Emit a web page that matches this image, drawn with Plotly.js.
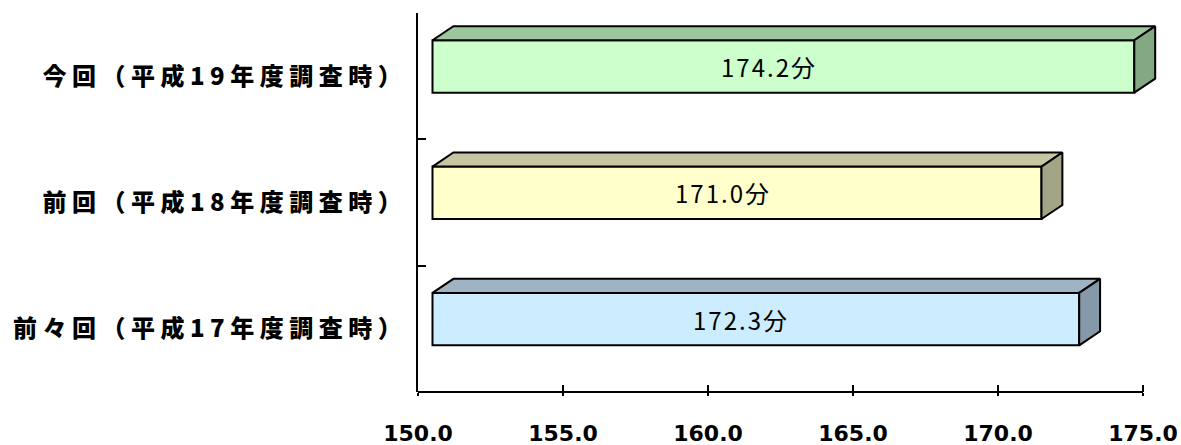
<!DOCTYPE html>
<html><head><meta charset="utf-8">
<script src="https://cdn.plot.ly/plotly-3.0.1.min.js"></script>
<style>
html,body{margin:0;padding:0;background:#fff;}
#chart{width:1181px;height:445px;}
.yaxislayer-above .ytick text{letter-spacing:5.5px;font-weight:900 !important;}
.annotation-text{letter-spacing:2px;}
</style></head><body><div id="chart"></div>
<script>
// ---- data ----
const categories = ['前々回（平成17年度調査時）', '前回（平成18年度調査時）', '今回（平成19年度調査時）'];
const values = [172.3, 171.0, 174.2];
const unit = '分';
const xTickValues = [150, 155, 160, 165, 170, 175];
const xTickLabels = ['150.0', '155.0', '160.0', '165.0', '170.0', '175.0'];

// ---- styles ----
const frontColors = ['#CCECFF', '#FFFFCC', '#CCFFCC'];
const topColors = ['#9EB3C3', '#C6C6A2', '#9CC69C'];
const sideColors = ['#8599A9', '#A4A486', '#84A884'];

// ---- 3D geometry (axis units) ----
const AXIS_MIN = 150, AXIS_MAX = 175;
const FRONT_DX = 0.5;
const DEPTH_X = 0.72, DEPTH_Y = 0.111;
const Y_SHIFT = 0.077, BAR_H = 0.415;
const PX_PER_UNIT = 29;
const ML = 418, MR = 10;
const plotW = 1181 - ML - MR;
const xRange = [AXIS_MIN, AXIS_MIN + plotW / PX_PER_UNIT];
const yRange = [-0.5, 2.5];

const traces = [];
const annotations = [];
const idx = categories.map((c, i) => i);

idx.forEach(i => {
  const yc = i + Y_SHIFT;
  const yt = yc + BAR_H / 2, yb = yc - BAR_H / 2;
  const xl = AXIS_MIN + FRONT_DX, xr = values[i] + FRONT_DX;
  traces.push({
    type: 'scatter', mode: 'lines', fill: 'toself', hoverinfo: 'skip',
    x: [xl, xl + DEPTH_X, xr + DEPTH_X, xr, xl],
    y: [yt, yt + DEPTH_Y, yt + DEPTH_Y, yt, yt],
    fillcolor: topColors[i], line: {color: '#000', width: 2}
  });
  traces.push({
    type: 'scatter', mode: 'lines', fill: 'toself', hoverinfo: 'skip',
    x: [xr, xr + DEPTH_X, xr + DEPTH_X, xr, xr],
    y: [yt, yt + DEPTH_Y, yb + DEPTH_Y, yb, yt],
    fillcolor: sideColors[i], line: {color: '#000', width: 2}
  });
  annotations.push({
    x: (AXIS_MIN + values[i]) / 2, y: yc, xref: 'x', yref: 'y',
    text: values[i].toFixed(1) + unit, showarrow: false,
    font: {family: 'Noto Sans CJK JP', size: 24, color: '#000'}
  });
});

traces.unshift({
  type: 'bar', orientation: 'h', hoverinfo: 'skip',
  y: idx.map(i => i + Y_SHIFT),
  x: values.map(v => v - AXIS_MIN),
  base: AXIS_MIN + FRONT_DX,
  width: BAR_H,
  marker: {color: frontColors, line: {color: '#000', width: 2}}
});

// invisible carriers so the overlay tick axes get drawn
traces.push({type: 'scatter', mode: 'markers', xaxis: 'x2', yaxis: 'y',
  x: [AXIS_MIN], y: [yRange[0]], marker: {opacity: 0}, hoverinfo: 'skip'});
traces.push({type: 'scatter', mode: 'markers', xaxis: 'x', yaxis: 'y2',
  x: [AXIS_MIN], y: [yRange[0]], marker: {opacity: 0}, hoverinfo: 'skip'});

const layout = {
  width: 1181, height: 445,
  margin: {l: ML, r: MR, t: 13, b: 53, pad: 0},
  paper_bgcolor: '#fff', plot_bgcolor: '#fff',
  showlegend: false,
  xaxis: {
    range: xRange, tickvals: xTickValues, ticktext: xTickLabels,
    ticks: 'outside', ticklen: 3, tickwidth: 2, tickcolor: '#000',
    showline: false, showgrid: false, zeroline: false,
    tickfont: {family: 'DejaVu Sans', size: 22, color: '#000', weight: 'bold'},
    ticklabelstandoff: 19
  },
  xaxis2: {
    overlaying: 'x', anchor: 'y', side: 'bottom', range: xRange, tickvals: xTickValues,
    ticks: 'inside', ticklen: 7, tickwidth: 2, tickcolor: '#000',
    showticklabels: false, showline: false, showgrid: false, zeroline: false
  },
  yaxis: {
    range: yRange, tickvals: idx, ticktext: categories, ticks: '',
    showline: true, linewidth: 2, linecolor: '#000',
    showgrid: false, zeroline: false,
    tickfont: {family: 'Noto Sans CJK JP', size: 24, color: '#000', weight: 'bold'},
    ticklabelstandoff: 4
  },
  yaxis2: {
    overlaying: 'y', anchor: 'x', side: 'left', range: yRange,
    tickvals: [-0.5, 0.5, 1.5, 2.5],
    ticks: 'inside', ticklen: 8, tickwidth: 2, tickcolor: '#000',
    showticklabels: false, showline: false, showgrid: false, zeroline: false
  },
  shapes: [{
    type: 'line', xref: 'x', yref: 'paper',
    x0: AXIS_MIN, x1: AXIS_MAX, y0: 0, y1: 0,
    line: {color: '#000', width: 2}
  }],
  annotations: annotations
};

Plotly.newPlot('chart', traces, layout, {staticPlot: true, displayModeBar: false});
</script></body></html>
